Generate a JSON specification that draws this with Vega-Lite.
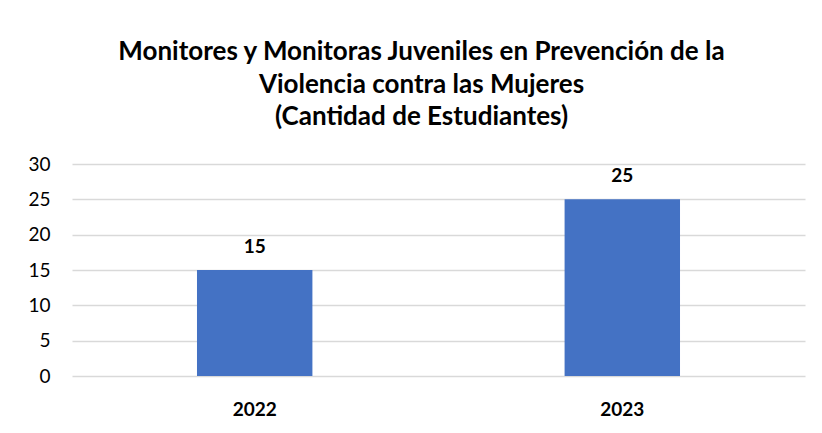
{
  "$schema": "https://vega.github.io/schema/vega-lite/v6.json",
  "width": 733,
  "height": 212,
  "padding": {"left": 27, "top": 39, "right": 16, "bottom": 10},
  "background": "white",
  "title": {
    "text": ["Monitores y Monitoras Juveniles en Prevención de la", "Violencia contra las Mujeres", "(Cantidad de Estudiantes)"],
    "font": "Lato",
    "fontSize": 26,
    "fontWeight": "bold",
    "color": "#000000",
    "lineHeight": 32.5,
    "anchor": "middle",
    "dx": -17,
    "offset": 25
  },
  "data": {
    "values": [
      {"year": "2022", "students": 15},
      {"year": "2023", "students": 25}
    ]
  },
  "encoding": {
    "x": {
      "field": "year",
      "type": "nominal",
      "scale": {"paddingInner": 0.686, "paddingOuter": 0.34},
      "axis": {
        "title": null,
        "labelAngle": 0,
        "labelFont": "Lato",
        "labelFontSize": 19,
        "labelFontWeight": "bold",
        "labelColor": "#000000",
        "labelPadding": 24,
        "domain": false,
        "ticks": false,
        "grid": false
      }
    },
    "y": {
      "field": "students",
      "type": "quantitative",
      "scale": {"domain": [0, 30]},
      "axis": {
        "title": null,
        "values": [0, 5, 10, 15, 20, 25, 30],
        "labelFont": "Lato",
        "labelFontSize": 19,
        "labelColor": "#000000",
        "labelPadding": 22,
        "domain": false,
        "ticks": false,
        "grid": true,
        "gridColor": "#d9d9d9",
        "gridWidth": 1.5
      }
    }
  },
  "layer": [
    {"mark": {"type": "bar", "color": "#4472C4"}},
    {
      "mark": {"type": "text", "dy": -23, "font": "Lato", "fontSize": 19, "fontWeight": "bold", "color": "#000000"},
      "encoding": {"text": {"field": "students", "type": "quantitative"}}
    }
  ],
  "config": {"view": {"stroke": null}}
}
